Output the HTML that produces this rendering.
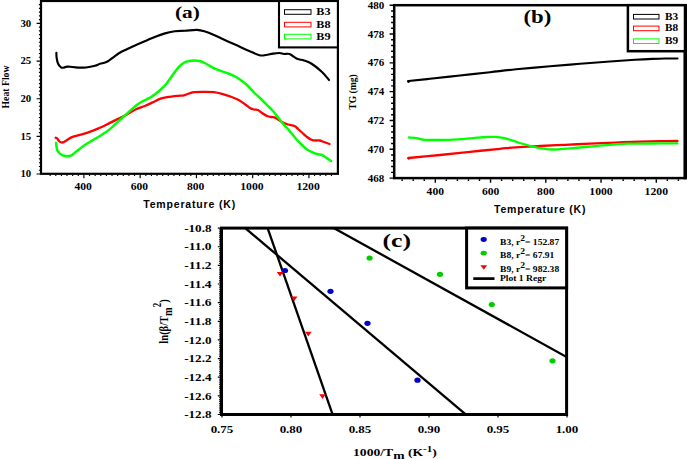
<!DOCTYPE html>
<html lang="en">
<head>
<meta charset="utf-8">
<title>Figure: DSC, TG and Kissinger plots</title>
<style>
html,body{margin:0;padding:0;background:#fff;}
body{width:687px;height:459px;overflow:hidden;}
svg{display:block;}
text{fill:#000;}
</style>
</head>
<body>
<svg width="687" height="459" viewBox="0 0 687 459">
<rect width="687" height="459" fill="#fff"/>
<g id="plot-a">
<rect x="41" y="1" width="296.9" height="172.8" fill="none" stroke="#000" stroke-width="2.2"/>
<path d="M40.00 174.00h-3.4M40.00 170.24h-1.1M40.00 166.47h-1.1M40.00 162.71h-1.1M40.00 158.94h-1.1M40.00 155.18h-1.1M40.00 151.41h-1.1M40.00 147.65h-1.1M40.00 143.88h-1.1M40.00 140.12h-1.1M40.00 136.35h-3.4M40.00 132.59h-1.1M40.00 128.82h-1.1M40.00 125.06h-1.1M40.00 121.29h-1.1M40.00 117.53h-1.1M40.00 113.76h-1.1M40.00 110.00h-1.1M40.00 106.23h-1.1M40.00 102.47h-1.1M40.00 98.70h-3.4M40.00 94.94h-1.1M40.00 91.17h-1.1M40.00 87.41h-1.1M40.00 83.64h-1.1M40.00 79.88h-1.1M40.00 76.11h-1.1M40.00 72.34h-1.1M40.00 68.58h-1.1M40.00 64.81h-1.1M40.00 61.05h-3.4M40.00 57.28h-1.1M40.00 53.52h-1.1M40.00 49.75h-1.1M40.00 45.99h-1.1M40.00 42.22h-1.1M40.00 38.46h-1.1M40.00 34.69h-1.1M40.00 30.93h-1.1M40.00 27.16h-1.1M40.00 23.40h-3.4M40.00 19.63h-1.1M40.00 15.87h-1.1M40.00 12.10h-1.1M40.00 8.34h-1.1M40.00 4.57h-1.1M50.14 174.80v1.1M55.77 174.80v1.1M61.40 174.80v1.1M67.02 174.80v1.1M72.65 174.80v1.1M78.27 174.80v1.1M83.90 174.80v3.4M89.53 174.80v1.1M95.15 174.80v1.1M100.78 174.80v1.1M106.40 174.80v1.1M112.03 174.80v1.1M117.66 174.80v1.1M123.28 174.80v1.1M128.91 174.80v1.1M134.53 174.80v1.1M140.16 174.80v3.4M145.79 174.80v1.1M151.41 174.80v1.1M157.04 174.80v1.1M162.66 174.80v1.1M168.29 174.80v1.1M173.92 174.80v1.1M179.54 174.80v1.1M185.17 174.80v1.1M190.79 174.80v1.1M196.42 174.80v3.4M202.05 174.80v1.1M207.67 174.80v1.1M213.30 174.80v1.1M218.92 174.80v1.1M224.55 174.80v1.1M230.18 174.80v1.1M235.80 174.80v1.1M241.43 174.80v1.1M247.05 174.80v1.1M252.68 174.80v3.4M258.31 174.80v1.1M263.93 174.80v1.1M269.56 174.80v1.1M275.18 174.80v1.1M280.81 174.80v1.1M286.44 174.80v1.1M292.06 174.80v1.1M297.69 174.80v1.1M303.31 174.80v1.1M308.94 174.80v3.4M314.57 174.80v1.1M320.19 174.80v1.1M325.82 174.80v1.1M331.44 174.80v1.1" stroke="#000" stroke-width="1.15" fill="none"/>
<text x="31.2" y="177.3" text-anchor="end" font-size="10.8" font-family="Liberation Serif, serif" font-weight="bold">10</text>
<text x="31.2" y="139.7" text-anchor="end" font-size="10.8" font-family="Liberation Serif, serif" font-weight="bold">15</text>
<text x="31.2" y="102.0" text-anchor="end" font-size="10.8" font-family="Liberation Serif, serif" font-weight="bold">20</text>
<text x="31.2" y="64.3" text-anchor="end" font-size="10.8" font-family="Liberation Serif, serif" font-weight="bold">25</text>
<text x="31.2" y="26.7" text-anchor="end" font-size="10.8" font-family="Liberation Serif, serif" font-weight="bold">30</text>
<text x="74.4" y="190.2" font-size="11" textLength="17.4" lengthAdjust="spacingAndGlyphs" font-family="Liberation Serif, serif" font-weight="bold">400</text>
<text x="130.7" y="190.2" font-size="11" textLength="17.4" lengthAdjust="spacingAndGlyphs" font-family="Liberation Serif, serif" font-weight="bold">600</text>
<text x="186.9" y="190.2" font-size="11" textLength="17.4" lengthAdjust="spacingAndGlyphs" font-family="Liberation Serif, serif" font-weight="bold">800</text>
<text x="240.2" y="190.2" font-size="11" textLength="23.4" lengthAdjust="spacingAndGlyphs" font-family="Liberation Serif, serif" font-weight="bold">1000</text>
<text x="296.4" y="190.2" font-size="11" textLength="23.4" lengthAdjust="spacingAndGlyphs" font-family="Liberation Serif, serif" font-weight="bold">1200</text>
<text x="143.2" y="208" font-size="10.5" textLength="92" font-family="Liberation Sans, sans-serif" font-weight="bold">Temperature (K)</text>
<text transform="translate(8.7 87) rotate(-90)" text-anchor="middle" font-size="10.5" textLength="43" lengthAdjust="spacingAndGlyphs" font-family="Liberation Serif, serif" font-weight="bold">Heat Flow</text>
<text x="175" y="17.6" font-size="17.5" textLength="24.8" lengthAdjust="spacingAndGlyphs" font-family="Liberation Serif, serif" font-weight="bold">(a)</text>
<rect x="279" y="1" width="58.9" height="46.4" fill="#fff" stroke="#000" stroke-width="2.1"/>
<rect x="284.5" y="9.7" width="26.5" height="4.6" fill="#fff" stroke="#000" stroke-width="1"/>
<text x="316.3" y="15.2" font-size="10" textLength="14.2" lengthAdjust="spacingAndGlyphs" font-family="Liberation Serif, serif" font-weight="bold">B3</text>
<rect x="284.5" y="22.3" width="26.5" height="4.6" fill="#fff" stroke="#f00" stroke-width="1"/>
<text x="316.3" y="27.8" font-size="10" textLength="14.2" lengthAdjust="spacingAndGlyphs" font-family="Liberation Serif, serif" font-weight="bold">B8</text>
<rect x="284.5" y="34.3" width="26.5" height="4.6" fill="#fff" stroke="#0f0" stroke-width="1"/>
<text x="316.3" y="39.8" font-size="10" textLength="14.2" lengthAdjust="spacingAndGlyphs" font-family="Liberation Serif, serif" font-weight="bold">B9</text>
<path d="M56.40 52.80 C56.43 53.58 56.33 55.72 56.60 57.50 C56.87 59.28 57.27 61.87 58.00 63.50 C58.73 65.13 60.00 66.62 61.00 67.30 C62.00 67.98 63.00 67.72 64.00 67.60 C65.00 67.48 66.00 66.73 67.00 66.60 C68.00 66.47 68.17 66.63 70.00 66.80 C71.83 66.97 75.33 67.48 78.00 67.60 C80.67 67.72 83.17 67.80 86.00 67.50 C88.83 67.20 92.67 66.42 95.00 65.80 C97.33 65.18 98.00 64.47 100.00 63.80 C102.00 63.13 104.67 62.97 107.00 61.80 C109.33 60.63 111.67 58.43 114.00 56.80 C116.33 55.17 117.50 53.90 121.00 52.00 C124.50 50.10 130.63 47.37 135.00 45.40 C139.37 43.43 143.70 41.68 147.20 40.20 C150.70 38.72 153.03 37.63 156.00 36.50 C158.97 35.37 161.83 34.28 165.00 33.40 C168.17 32.52 171.67 31.63 175.00 31.20 C178.33 30.77 181.33 31.02 185.00 30.80 C188.67 30.58 193.67 29.78 197.00 29.90 C200.33 30.02 202.17 30.65 205.00 31.50 C207.83 32.35 211.17 33.78 214.00 35.00 C216.83 36.22 218.50 37.22 222.00 38.80 C225.50 40.38 230.67 42.55 235.00 44.50 C239.33 46.45 243.92 48.72 248.00 50.50 C252.08 52.28 256.50 54.45 259.50 55.20 C262.50 55.95 263.75 55.27 266.00 55.00 C268.25 54.73 270.75 53.93 273.00 53.60 C275.25 53.27 277.67 52.93 279.50 53.00 C281.33 53.07 282.33 53.83 284.00 54.00 C285.67 54.17 287.33 53.20 289.50 54.00 C291.67 54.80 294.58 57.72 297.00 58.80 C299.42 59.88 301.50 59.63 304.00 60.50 C306.50 61.37 309.00 62.08 312.00 64.00 C315.00 65.92 319.17 69.33 322.00 72.00 C324.83 74.67 327.83 78.67 329.00 80.00" fill="none" stroke="#000" stroke-width="2.15" stroke-linecap="round" stroke-linejoin="round"/>
<path d="M55.70 137.80 C56.00 137.95 56.92 138.12 57.50 138.70 C58.08 139.28 58.33 140.67 59.20 141.30 C60.07 141.93 61.25 142.80 62.70 142.50 C64.15 142.20 66.15 140.48 67.90 139.50 C69.65 138.52 70.57 137.55 73.20 136.60 C75.83 135.65 80.50 134.77 83.70 133.80 C86.90 132.83 89.50 131.88 92.40 130.80 C95.30 129.72 98.18 128.62 101.10 127.30 C104.02 125.98 106.98 124.35 109.90 122.90 C112.82 121.45 115.70 120.05 118.60 118.60 C121.50 117.15 124.38 115.77 127.30 114.20 C130.22 112.63 133.18 110.57 136.10 109.20 C139.02 107.83 141.90 107.20 144.80 106.00 C147.70 104.80 150.97 103.20 153.50 102.00 C156.03 100.80 157.27 99.67 160.00 98.80 C162.73 97.93 166.90 97.30 169.90 96.80 C172.90 96.30 175.68 96.05 178.00 95.80 C180.32 95.55 181.97 95.68 183.80 95.30 C185.63 94.92 187.25 94.03 189.00 93.50 C190.75 92.97 191.67 92.37 194.30 92.10 C196.93 91.83 201.60 91.88 204.80 91.90 C208.00 91.92 210.63 91.88 213.50 92.20 C216.37 92.52 219.08 93.03 222.00 93.80 C224.92 94.57 228.08 95.68 231.00 96.80 C233.92 97.92 237.00 99.13 239.50 100.50 C242.00 101.87 244.25 103.75 246.00 105.00 C247.75 106.25 248.67 107.25 250.00 108.00 C251.33 108.75 252.67 109.17 254.00 109.50 C255.33 109.83 256.67 109.42 258.00 110.00 C259.33 110.58 260.50 112.00 262.00 113.00 C263.50 114.00 265.50 115.33 267.00 116.00 C268.50 116.67 269.75 116.78 271.00 117.00 C272.25 117.22 273.33 116.88 274.50 117.30 C275.67 117.72 276.75 118.72 278.00 119.50 C279.25 120.28 280.33 121.17 282.00 122.00 C283.67 122.83 285.92 123.83 288.00 124.50 C290.08 125.17 292.83 125.25 294.50 126.00 C296.17 126.75 296.75 127.92 298.00 129.00 C299.25 130.08 300.50 131.17 302.00 132.50 C303.50 133.83 305.33 135.75 307.00 137.00 C308.67 138.25 310.50 139.42 312.00 140.00 C313.50 140.58 314.75 140.42 316.00 140.50 C317.25 140.58 318.17 140.25 319.50 140.50 C320.83 140.75 322.33 141.42 324.00 142.00 C325.67 142.58 328.58 143.67 329.50 144.00" fill="none" stroke="#f00" stroke-width="2.3" stroke-linecap="round" stroke-linejoin="round"/>
<path d="M56.10 143.00 C56.33 144.32 56.40 148.85 57.50 150.90 C58.60 152.95 60.52 154.48 62.70 155.30 C64.88 156.12 68.57 156.25 70.60 155.80 C72.63 155.35 72.72 154.28 74.90 152.60 C77.08 150.92 80.78 147.73 83.70 145.70 C86.62 143.67 89.50 142.15 92.40 140.40 C95.30 138.65 98.18 137.08 101.10 135.20 C104.02 133.32 106.98 131.43 109.90 129.10 C112.82 126.77 115.70 123.83 118.60 121.20 C121.50 118.57 124.38 115.92 127.30 113.30 C130.22 110.68 133.65 107.47 136.10 105.50 C138.55 103.53 139.57 102.87 142.00 101.50 C144.43 100.13 147.80 99.10 150.70 97.30 C153.60 95.50 156.78 92.97 159.40 90.70 C162.02 88.43 164.07 86.48 166.40 83.70 C168.73 80.92 171.37 76.77 173.40 74.00 C175.43 71.23 176.87 68.98 178.60 67.10 C180.33 65.22 182.05 63.72 183.80 62.70 C185.55 61.68 187.35 61.38 189.10 61.00 C190.85 60.62 192.55 60.40 194.30 60.40 C196.05 60.40 197.85 60.57 199.60 61.00 C201.35 61.43 202.77 61.98 204.80 63.00 C206.83 64.02 209.85 66.05 211.80 67.10 C213.75 68.15 214.80 68.60 216.50 69.30 C218.20 70.00 219.83 70.52 222.00 71.30 C224.17 72.08 227.17 73.05 229.50 74.00 C231.83 74.95 233.92 75.83 236.00 77.00 C238.08 78.17 240.00 79.50 242.00 81.00 C244.00 82.50 245.92 84.00 248.00 86.00 C250.08 88.00 252.33 90.83 254.50 93.00 C256.67 95.17 258.92 97.00 261.00 99.00 C263.08 101.00 265.17 103.17 267.00 105.00 C268.83 106.83 270.33 108.17 272.00 110.00 C273.67 111.83 275.33 113.92 277.00 116.00 C278.67 118.08 280.33 120.50 282.00 122.50 C283.67 124.50 285.33 126.08 287.00 128.00 C288.67 129.92 290.33 132.00 292.00 134.00 C293.67 136.00 295.33 138.17 297.00 140.00 C298.67 141.83 300.33 143.42 302.00 145.00 C303.67 146.58 305.33 148.33 307.00 149.50 C308.67 150.67 310.33 151.25 312.00 152.00 C313.67 152.75 315.33 153.50 317.00 154.00 C318.67 154.50 320.50 154.42 322.00 155.00 C323.50 155.58 324.50 156.50 326.00 157.50 C327.50 158.50 330.17 160.42 331.00 161.00" fill="none" stroke="#0f0" stroke-width="2.45" stroke-linecap="round" stroke-linejoin="round"/>
</g>
<g id="plot-b">
<rect x="394.2" y="5.2" width="290.8" height="172.9" fill="none" stroke="#000" stroke-width="2.5"/>
<path d="M685.3 4v175.3" stroke="#000" stroke-width="3.4"/>
<path d="M393.00 178.10h-3.4M393.00 172.34h-1.9M393.00 166.57h-1.9M393.00 160.81h-1.9M393.00 155.05h-1.9M393.00 149.28h-3.4M393.00 143.52h-1.9M393.00 137.76h-1.9M393.00 131.99h-1.9M393.00 126.23h-1.9M393.00 120.47h-3.4M393.00 114.70h-1.9M393.00 108.94h-1.9M393.00 103.18h-1.9M393.00 97.42h-1.9M393.00 91.65h-3.4M393.00 85.89h-1.9M393.00 80.13h-1.9M393.00 74.36h-1.9M393.00 68.60h-1.9M393.00 62.84h-3.4M393.00 57.07h-1.9M393.00 51.31h-1.9M393.00 45.55h-1.9M393.00 39.78h-1.9M393.00 34.02h-3.4M393.00 28.26h-1.9M393.00 22.49h-1.9M393.00 16.73h-1.9M393.00 10.97h-1.9M393.00 5.20h-3.4M402.15 179.30v1.7M413.20 179.30v1.7M424.25 179.30v1.7M435.30 179.30v3.4M446.35 179.30v1.7M457.40 179.30v1.7M468.45 179.30v1.7M479.50 179.30v1.7M490.55 179.30v3.4M501.60 179.30v1.7M512.65 179.30v1.7M523.70 179.30v1.7M534.75 179.30v1.7M545.80 179.30v3.4M556.85 179.30v1.7M567.90 179.30v1.7M578.95 179.30v1.7M590.00 179.30v1.7M601.05 179.30v3.4M612.10 179.30v1.7M623.15 179.30v1.7M634.20 179.30v1.7M645.25 179.30v1.7M656.30 179.30v3.4M667.35 179.30v1.7M678.40 179.30v1.7" stroke="#000" stroke-width="1.4" fill="none"/>
<text x="367.8" y="181.6" font-size="10.5" textLength="16.5" lengthAdjust="spacingAndGlyphs" font-family="Liberation Serif, serif" font-weight="bold">468</text>
<text x="367.8" y="152.8" font-size="10.5" textLength="16.5" lengthAdjust="spacingAndGlyphs" font-family="Liberation Serif, serif" font-weight="bold">470</text>
<text x="367.8" y="124.0" font-size="10.5" textLength="16.5" lengthAdjust="spacingAndGlyphs" font-family="Liberation Serif, serif" font-weight="bold">472</text>
<text x="367.8" y="95.2" font-size="10.5" textLength="16.5" lengthAdjust="spacingAndGlyphs" font-family="Liberation Serif, serif" font-weight="bold">474</text>
<text x="367.8" y="66.3" font-size="10.5" textLength="16.5" lengthAdjust="spacingAndGlyphs" font-family="Liberation Serif, serif" font-weight="bold">476</text>
<text x="367.8" y="37.5" font-size="10.5" textLength="16.5" lengthAdjust="spacingAndGlyphs" font-family="Liberation Serif, serif" font-weight="bold">478</text>
<text x="367.8" y="8.7" font-size="10.5" textLength="16.5" lengthAdjust="spacingAndGlyphs" font-family="Liberation Serif, serif" font-weight="bold">480</text>
<text x="426.6" y="195.2" font-size="11" textLength="17.4" lengthAdjust="spacingAndGlyphs" font-family="Liberation Serif, serif" font-weight="bold">400</text>
<text x="481.9" y="195.2" font-size="11" textLength="17.4" lengthAdjust="spacingAndGlyphs" font-family="Liberation Serif, serif" font-weight="bold">600</text>
<text x="537.1" y="195.2" font-size="11" textLength="17.4" lengthAdjust="spacingAndGlyphs" font-family="Liberation Serif, serif" font-weight="bold">800</text>
<text x="589.3" y="195.2" font-size="11" textLength="23.4" lengthAdjust="spacingAndGlyphs" font-family="Liberation Serif, serif" font-weight="bold">1000</text>
<text x="644.6" y="195.2" font-size="11" textLength="23.4" lengthAdjust="spacingAndGlyphs" font-family="Liberation Serif, serif" font-weight="bold">1200</text>
<text x="494" y="213" font-size="10.5" textLength="91.5" font-family="Liberation Sans, sans-serif" font-weight="bold">Temperature (K)</text>
<text transform="translate(355.8 92) rotate(-90)" text-anchor="middle" font-size="10" textLength="35.5" lengthAdjust="spacingAndGlyphs" font-family="Liberation Serif, serif" font-weight="bold">TG (mg)</text>
<text x="523.5" y="22.7" font-size="18" textLength="27.8" lengthAdjust="spacingAndGlyphs" font-family="Liberation Serif, serif" font-weight="bold">(b)</text>
<rect x="627.9" y="5.2" width="57.1" height="46" fill="#fff" stroke="#000" stroke-width="2.5"/>
<rect x="633.5" y="14.4" width="25.5" height="4.6" fill="#fff" stroke="#000" stroke-width="1"/>
<text x="665" y="19.7" font-size="10" textLength="13.2" lengthAdjust="spacingAndGlyphs" font-family="Liberation Serif, serif" font-weight="bold">B3</text>
<rect x="633.5" y="26.1" width="25.5" height="4.6" fill="#fff" stroke="#f00" stroke-width="1"/>
<text x="665" y="31.4" font-size="10" textLength="13.2" lengthAdjust="spacingAndGlyphs" font-family="Liberation Serif, serif" font-weight="bold">B8</text>
<rect x="633.5" y="38.9" width="25.5" height="4.6" fill="#fff" stroke="#0f0" stroke-width="1"/>
<text x="665" y="44.2" font-size="10" textLength="13.2" lengthAdjust="spacingAndGlyphs" font-family="Liberation Serif, serif" font-weight="bold">B9</text>
<path d="M408.50 81.00 C412.08 80.63 421.42 79.72 430.00 78.80 C438.58 77.88 450.00 76.60 460.00 75.50 C470.00 74.40 480.67 73.23 490.00 72.20 C499.33 71.17 506.00 70.28 516.00 69.30 C526.00 68.32 539.33 67.22 550.00 66.30 C560.67 65.38 570.00 64.60 580.00 63.80 C590.00 63.00 600.83 62.17 610.00 61.50 C619.17 60.83 627.92 60.23 635.00 59.80 C642.08 59.37 647.50 59.12 652.50 58.90 C657.50 58.68 660.83 58.57 665.00 58.50 C669.17 58.43 675.42 58.50 677.50 58.50" fill="none" stroke="#000" stroke-width="2.15" stroke-linecap="round"/>
<circle cx="408.5" cy="81.5" r="1.4" fill="#000"/>
<path d="M408.50 158.00 C413.75 157.50 429.75 156.03 440.00 155.00 C450.25 153.97 460.00 152.83 470.00 151.80 C480.00 150.77 492.33 149.55 500.00 148.80 C507.67 148.05 509.33 147.77 516.00 147.30 C522.67 146.83 531.83 146.42 540.00 146.00 C548.17 145.58 556.67 145.18 565.00 144.80 C573.33 144.42 581.67 144.07 590.00 143.70 C598.33 143.33 606.67 142.93 615.00 142.60 C623.33 142.27 632.50 141.93 640.00 141.70 C647.50 141.47 653.75 141.32 660.00 141.20 C666.25 141.08 674.58 141.03 677.50 141.00" fill="none" stroke="#f00" stroke-width="2.3" stroke-linecap="round"/>
<circle cx="408.7" cy="158.3" r="1.4" fill="#f00"/>
<path d="M409.00 137.50 C410.30 137.62 414.22 137.82 416.80 138.20 C419.38 138.58 421.13 139.50 424.50 139.80 C427.87 140.10 432.82 139.98 437.00 140.00 C441.18 140.02 445.77 140.03 449.60 139.90 C453.43 139.77 457.10 139.42 460.00 139.20 C462.90 138.98 464.17 138.85 467.00 138.60 C469.83 138.35 473.72 137.97 477.00 137.70 C480.28 137.43 483.63 137.13 486.70 137.00 C489.77 136.87 492.48 136.72 495.40 136.90 C498.32 137.08 501.28 137.47 504.20 138.10 C507.12 138.73 510.00 139.80 512.90 140.70 C515.80 141.60 518.68 142.62 521.60 143.50 C524.52 144.38 527.67 145.28 530.40 146.00 C533.13 146.72 535.57 147.32 538.00 147.80 C540.43 148.28 542.67 148.62 545.00 148.90 C547.33 149.18 549.83 149.43 552.00 149.50 C554.17 149.57 555.00 149.50 558.00 149.30 C561.00 149.10 565.50 148.68 570.00 148.30 C574.50 147.92 579.58 147.48 585.00 147.00 C590.42 146.52 597.50 145.83 602.50 145.40 C607.50 144.97 610.83 144.68 615.00 144.40 C619.17 144.12 621.67 143.85 627.50 143.70 C633.33 143.55 641.67 143.55 650.00 143.50 C658.33 143.45 672.92 143.42 677.50 143.40" fill="none" stroke="#0f0" stroke-width="2.3" stroke-linecap="round"/>
</g>
<g id="plot-c">
<clipPath id="clipc"><rect x="221.5" y="228.1" width="345.1" height="186.4"/></clipPath>
<g clip-path="url(#clipc)" stroke="#000" stroke-width="2.3" fill="none">
<path d="M262 212 L338 430"/>
<path d="M226.2 212 L484.5 430.3"/>
<path d="M306.6 213 L594.6 372.5"/>
</g>
<rect x="221.5" y="228.1" width="345.1" height="186.4" fill="none" stroke="#000" stroke-width="3"/>
<path d="M220.10 228.10h-2.3M220.10 229.96h-0.9M220.10 231.83h-0.9M220.10 233.69h-0.9M220.10 235.56h-0.9M220.10 237.42h-0.9M220.10 239.28h-0.9M220.10 241.15h-0.9M220.10 243.01h-0.9M220.10 244.88h-0.9M220.10 246.74h-2.3M220.10 248.60h-0.9M220.10 250.47h-0.9M220.10 252.33h-0.9M220.10 254.20h-0.9M220.10 256.06h-0.9M220.10 257.92h-0.9M220.10 259.79h-0.9M220.10 261.65h-0.9M220.10 263.52h-0.9M220.10 265.38h-2.3M220.10 267.24h-0.9M220.10 269.11h-0.9M220.10 270.97h-0.9M220.10 272.84h-0.9M220.10 274.70h-0.9M220.10 276.56h-0.9M220.10 278.43h-0.9M220.10 280.29h-0.9M220.10 282.16h-0.9M220.10 284.02h-2.3M220.10 285.88h-0.9M220.10 287.75h-0.9M220.10 289.61h-0.9M220.10 291.48h-0.9M220.10 293.34h-0.9M220.10 295.20h-0.9M220.10 297.07h-0.9M220.10 298.93h-0.9M220.10 300.80h-0.9M220.10 302.66h-2.3M220.10 304.52h-0.9M220.10 306.39h-0.9M220.10 308.25h-0.9M220.10 310.12h-0.9M220.10 311.98h-0.9M220.10 313.84h-0.9M220.10 315.71h-0.9M220.10 317.57h-0.9M220.10 319.44h-0.9M220.10 321.30h-2.3M220.10 323.16h-0.9M220.10 325.03h-0.9M220.10 326.89h-0.9M220.10 328.76h-0.9M220.10 330.62h-0.9M220.10 332.48h-0.9M220.10 334.35h-0.9M220.10 336.21h-0.9M220.10 338.08h-0.9M220.10 339.94h-2.3M220.10 341.80h-0.9M220.10 343.67h-0.9M220.10 345.53h-0.9M220.10 347.40h-0.9M220.10 349.26h-0.9M220.10 351.12h-0.9M220.10 352.99h-0.9M220.10 354.85h-0.9M220.10 356.72h-0.9M220.10 358.58h-2.3M220.10 360.44h-0.9M220.10 362.31h-0.9M220.10 364.17h-0.9M220.10 366.04h-0.9M220.10 367.90h-0.9M220.10 369.76h-0.9M220.10 371.63h-0.9M220.10 373.49h-0.9M220.10 375.36h-0.9M220.10 377.22h-2.3M220.10 379.08h-0.9M220.10 380.95h-0.9M220.10 382.81h-0.9M220.10 384.68h-0.9M220.10 386.54h-0.9M220.10 388.40h-0.9M220.10 390.27h-0.9M220.10 392.13h-0.9M220.10 394.00h-0.9M220.10 395.86h-2.3M220.10 397.72h-0.9M220.10 399.59h-0.9M220.10 401.45h-0.9M220.10 403.32h-0.9M220.10 405.18h-0.9M220.10 407.04h-0.9M220.10 408.91h-0.9M220.10 410.77h-0.9M220.10 412.64h-0.9M220.10 414.50h-2.3M222.00 415.90v1.6M291.00 415.90v1.6M360.00 415.90v1.6M429.00 415.90v1.6M498.00 415.90v1.6M567.00 415.90v1.6" stroke="#000" stroke-width="1.2" fill="none"/>
<text x="211.5" y="231.7" text-anchor="end" font-size="9.8" textLength="27.3" lengthAdjust="spacingAndGlyphs" font-family="Liberation Serif, serif" font-weight="bold">-10.8</text>
<text x="211.5" y="250.3" text-anchor="end" font-size="9.8" textLength="27.3" lengthAdjust="spacingAndGlyphs" font-family="Liberation Serif, serif" font-weight="bold">-11.0</text>
<text x="211.5" y="269.0" text-anchor="end" font-size="9.8" textLength="27.3" lengthAdjust="spacingAndGlyphs" font-family="Liberation Serif, serif" font-weight="bold">-11.2</text>
<text x="211.5" y="287.6" text-anchor="end" font-size="9.8" textLength="27.3" lengthAdjust="spacingAndGlyphs" font-family="Liberation Serif, serif" font-weight="bold">-11.4</text>
<text x="211.5" y="306.3" text-anchor="end" font-size="9.8" textLength="27.3" lengthAdjust="spacingAndGlyphs" font-family="Liberation Serif, serif" font-weight="bold">-11.6</text>
<text x="211.5" y="324.9" text-anchor="end" font-size="9.8" textLength="27.3" lengthAdjust="spacingAndGlyphs" font-family="Liberation Serif, serif" font-weight="bold">-11.8</text>
<text x="211.5" y="343.5" text-anchor="end" font-size="9.8" textLength="27.3" lengthAdjust="spacingAndGlyphs" font-family="Liberation Serif, serif" font-weight="bold">-12.0</text>
<text x="211.5" y="362.2" text-anchor="end" font-size="9.8" textLength="27.3" lengthAdjust="spacingAndGlyphs" font-family="Liberation Serif, serif" font-weight="bold">-12.2</text>
<text x="211.5" y="380.8" text-anchor="end" font-size="9.8" textLength="27.3" lengthAdjust="spacingAndGlyphs" font-family="Liberation Serif, serif" font-weight="bold">-12.4</text>
<text x="211.5" y="399.5" text-anchor="end" font-size="9.8" textLength="27.3" lengthAdjust="spacingAndGlyphs" font-family="Liberation Serif, serif" font-weight="bold">-12.6</text>
<text x="211.5" y="418.1" text-anchor="end" font-size="9.8" textLength="27.3" lengthAdjust="spacingAndGlyphs" font-family="Liberation Serif, serif" font-weight="bold">-12.8</text>
<text x="222.0" y="432.8" text-anchor="middle" font-size="10" textLength="22.7" lengthAdjust="spacingAndGlyphs" font-family="Liberation Serif, serif" font-weight="bold">0.75</text>
<text x="291.0" y="432.8" text-anchor="middle" font-size="10" textLength="22.7" lengthAdjust="spacingAndGlyphs" font-family="Liberation Serif, serif" font-weight="bold">0.80</text>
<text x="360.0" y="432.8" text-anchor="middle" font-size="10" textLength="22.7" lengthAdjust="spacingAndGlyphs" font-family="Liberation Serif, serif" font-weight="bold">0.85</text>
<text x="429.0" y="432.8" text-anchor="middle" font-size="10" textLength="22.7" lengthAdjust="spacingAndGlyphs" font-family="Liberation Serif, serif" font-weight="bold">0.90</text>
<text x="498.0" y="432.8" text-anchor="middle" font-size="10" textLength="22.7" lengthAdjust="spacingAndGlyphs" font-family="Liberation Serif, serif" font-weight="bold">0.95</text>
<text x="567.0" y="432.8" text-anchor="middle" font-size="10" textLength="22.7" lengthAdjust="spacingAndGlyphs" font-family="Liberation Serif, serif" font-weight="bold">1.00</text>
<g transform="translate(353 455.7) scale(1.3 1)"><text font-size="10.5" font-family="Liberation Serif, serif" font-weight="bold">1000/T<tspan dy="3.2" font-size="10.5">m</tspan><tspan dy="-3.2"> (K</tspan><tspan dy="-4" font-size="8.5">-1</tspan><tspan dy="4">)</tspan></text></g>
<g transform="translate(168.4 321.4) scale(1.27 1) rotate(-90)"><text text-anchor="middle" font-size="10.5" font-family="Liberation Serif, serif" font-weight="bold">ln(&#946;/T<tspan dy="3" font-size="10.5">m</tspan><tspan dy="-9" font-size="9">2</tspan><tspan dy="6">)</tspan></text></g>
<text x="382.5" y="246.5" font-size="18.5" textLength="28.5" lengthAdjust="spacingAndGlyphs" font-family="Liberation Serif, serif" font-weight="bold">(c)</text>
<rect x="466.6" y="228.1" width="100" height="59.8" fill="#fff" stroke="#000" stroke-width="3"/>
<ellipse cx="483.7" cy="239.5" rx="3.1" ry="2.4" fill="#00c"/>
<ellipse cx="483.7" cy="253.2" rx="3.1" ry="2.4" fill="#0c0"/>
<path d="M480.4 265.3h6.8l-3.4 4.4z" fill="#f00"/>
<path d="M473.3 278.6h21.2" stroke="#000" stroke-width="2.7"/>
<g transform="translate(500 244.6) scale(1.33 1)"><text font-size="7.2" font-family="Liberation Serif, serif" font-weight="bold">B3, r<tspan dy="-3.8" font-size="7.2">2</tspan><tspan dy="3.8">= 152.87</tspan></text></g>
<g transform="translate(500 258.2) scale(1.33 1)"><text font-size="7.2" font-family="Liberation Serif, serif" font-weight="bold">B8, r<tspan dy="-3.8" font-size="7.2">2</tspan><tspan dy="3.8">= 67.91</tspan></text></g>
<g transform="translate(500 272.0) scale(1.33 1)"><text font-size="7.2" font-family="Liberation Serif, serif" font-weight="bold">B9, r<tspan dy="-3.8" font-size="7.2">2</tspan><tspan dy="3.8">= 982.38</tspan></text></g>
<g transform="translate(500 281.2) scale(1.33 1)"><text font-size="7.2" font-family="Liberation Serif, serif" font-weight="bold">Plot 1 Regr</text></g>
<ellipse cx="285.0" cy="270.5" rx="3.1" ry="2.6" fill="#00c"/>
<ellipse cx="330.5" cy="291.3" rx="3.1" ry="2.6" fill="#00c"/>
<ellipse cx="367.5" cy="323.3" rx="3.1" ry="2.6" fill="#00c"/>
<ellipse cx="417.5" cy="380.2" rx="3.1" ry="2.6" fill="#00c"/>
<ellipse cx="369.6" cy="258.0" rx="3.1" ry="2.6" fill="#0c0"/>
<ellipse cx="440.0" cy="274.3" rx="3.1" ry="2.6" fill="#0c0"/>
<ellipse cx="491.8" cy="304.5" rx="3.1" ry="2.6" fill="#0c0"/>
<ellipse cx="552.5" cy="360.8" rx="3.1" ry="2.6" fill="#0c0"/>
<path d="M276.7 271.9h6.6l-3.3 4.6z" fill="#f00"/>
<path d="M290.9 296.4h6.6l-3.3 4.6z" fill="#f00"/>
<path d="M305.0 331.8h6.6l-3.3 4.6z" fill="#f00"/>
<path d="M319.2 394.3h6.6l-3.3 4.6z" fill="#f00"/>
</g>
</svg>
</body>
</html>
